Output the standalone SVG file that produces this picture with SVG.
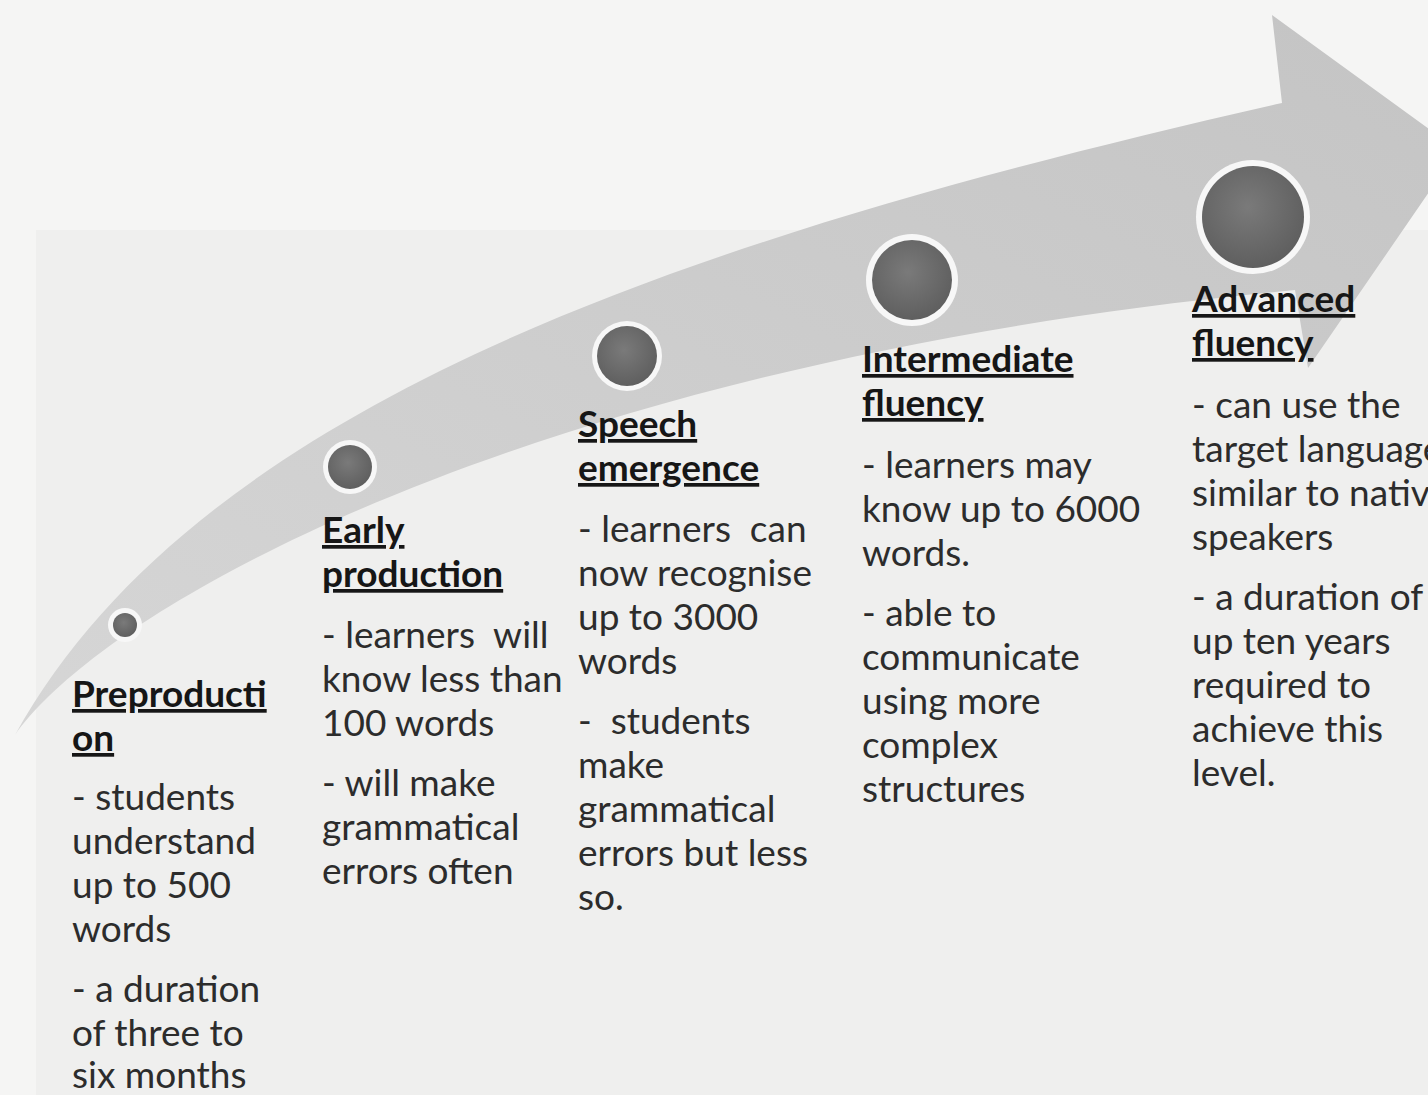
<svg xmlns="http://www.w3.org/2000/svg" width="1428" height="1095" viewBox="0 0 1428 1095">
  <defs>
    <linearGradient id="arrowFill" x1="0" y1="1" x2="1" y2="0">
      <stop offset="0" stop-color="#d6d6d6"/>
      <stop offset="1" stop-color="#c4c4c4"/>
    </linearGradient>
    <radialGradient id="dot" cx="0.45" cy="0.4" r="0.6">
      <stop offset="0" stop-color="#7a7a7a"/>
      <stop offset="1" stop-color="#5f5f5f"/>
    </radialGradient>
  </defs>
  <style>
    text { font-family: Lato, "Liberation Sans", sans-serif; font-size: 37px; fill: #2c2c2c; }
    .h { font-weight: bold; fill: #161616; text-decoration: underline; }
    .ring { fill: #f7f7f7; }
    .dot { fill: url(#dot); }
  </style>
  <rect x="0" y="0" width="1428" height="1095" fill="#f5f5f4"/>
  <rect x="36" y="230" width="1400" height="880" fill="#efefee"/>

  <g id="arrow">
    <path fill="url(#arrowFill)" d="M15,735 C200,400 700,235 1282,103 L1272,15 L1458,150 L1308,368 L1295,290 C550,360 110,600 15,735 Z"/>
  </g>

  <g id="connectors"/>

  <g id="stage-preproduction">
    <circle class="ring" cx="125" cy="625" r="17"/>
    <circle class="dot" cx="125" cy="625" r="12"/>
    <text x="72" y="707" class="h">Preproducti</text>
    <text x="72" y="751" class="h">on</text>
    <text x="72" y="810">- students</text>
    <text x="72" y="854">understand</text>
    <text x="72" y="898">up to 500</text>
    <text x="72" y="942">words</text>
    <text x="72" y="1002">- a duration</text>
    <text x="72" y="1046">of three to</text>
    <text x="72" y="1088">six months</text>
  </g>

  <g id="stage-early-production">
    <circle class="ring" cx="350" cy="467" r="27"/>
    <circle class="dot" cx="350" cy="467" r="22"/>
    <text x="322" y="543" class="h">Early</text>
    <text x="322" y="587" class="h">production</text>
    <text x="322" y="648" xml:space="preserve">- learners  will</text>
    <text x="322" y="692">know less than</text>
    <text x="322" y="736">100 words</text>
    <text x="322" y="796">- will make</text>
    <text x="322" y="840">grammatical</text>
    <text x="322" y="884">errors often</text>
  </g>

  <g id="stage-speech-emergence">
    <circle class="ring" cx="627" cy="356" r="35"/>
    <circle class="dot" cx="627" cy="356" r="30"/>
    <text x="578" y="437" class="h">Speech</text>
    <text x="578" y="481" class="h">emergence</text>
    <text x="578" y="542" xml:space="preserve">- learners  can</text>
    <text x="578" y="586">now recognise</text>
    <text x="578" y="630">up to 3000</text>
    <text x="578" y="674">words</text>
    <text x="578" y="734" xml:space="preserve">-  students</text>
    <text x="578" y="778">make</text>
    <text x="578" y="822">grammatical</text>
    <text x="578" y="866">errors but less</text>
    <text x="578" y="910">so.</text>
  </g>

  <g id="stage-intermediate-fluency">
    <circle class="ring" cx="912" cy="280" r="46"/>
    <circle class="dot" cx="912" cy="280" r="40"/>
    <text x="862" y="372" class="h">Intermediate</text>
    <text x="862" y="416" class="h">fluency</text>
    <text x="862" y="478">- learners may</text>
    <text x="862" y="522">know up to 6000</text>
    <text x="862" y="566">words.</text>
    <text x="862" y="626">- able to</text>
    <text x="862" y="670">communicate</text>
    <text x="862" y="714">using more</text>
    <text x="862" y="758">complex</text>
    <text x="862" y="802">structures</text>
  </g>

  <g id="stage-advanced-fluency">
    <circle class="ring" cx="1253" cy="217" r="57"/>
    <circle class="dot" cx="1253" cy="217" r="51"/>
    <text x="1192" y="312" class="h">Advanced</text>
    <text x="1192" y="356" class="h">fluency</text>
    <text x="1192" y="418">- can use the</text>
    <text x="1192" y="462">target language</text>
    <text x="1192" y="506">similar to native</text>
    <text x="1192" y="550">speakers</text>
    <text x="1192" y="610">- a duration of</text>
    <text x="1192" y="654">up ten years</text>
    <text x="1192" y="698">required to</text>
    <text x="1192" y="742">achieve this</text>
    <text x="1192" y="786">level.</text>
  </g>
</svg>
